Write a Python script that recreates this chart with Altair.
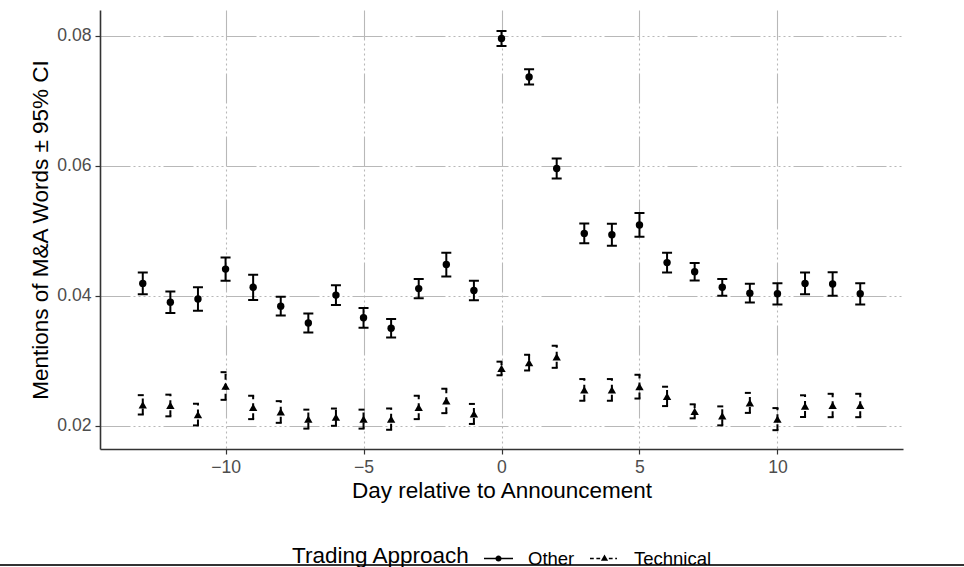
import altair as alt
import pandas as pd

# ---- data ----
days = list(range(-13, 14))
groups = ["Other", "Technical"]

other_mean = [0.0419, 0.0390, 0.0395, 0.0441, 0.0413, 0.0384, 0.0358, 0.0401, 0.0366, 0.0350,
              0.0411, 0.0448, 0.0408, 0.0796, 0.0737, 0.0596, 0.0496, 0.0494, 0.0509, 0.0451,
              0.0437, 0.0413, 0.0404, 0.0403, 0.0419, 0.0418, 0.0403]
other_ci = [0.00167, 0.00167, 0.00180, 0.00180, 0.00195, 0.00146, 0.00146, 0.00152, 0.00152, 0.00142,
            0.00149, 0.00183, 0.00149, 0.00116, 0.00116, 0.00154, 0.00151, 0.00170, 0.00183, 0.00152,
            0.00134, 0.00129, 0.00146, 0.00164, 0.00167, 0.00180, 0.00164]

tech_mean = [0.0232, 0.0231, 0.0217, 0.0261, 0.0228, 0.0221, 0.0210, 0.0213, 0.0210, 0.0210,
             0.0228, 0.0238, 0.0218, 0.0288, 0.0297, 0.0306, 0.0255, 0.0255, 0.0260, 0.0245,
             0.0222, 0.0215, 0.0235, 0.0210, 0.0230, 0.0231, 0.0231]
tech_ci = [0.00149, 0.00167, 0.00167, 0.00213, 0.00180, 0.00167, 0.00146, 0.00133, 0.00146, 0.00164,
           0.00180, 0.00188, 0.00154, 0.00105, 0.00121, 0.00170, 0.00167, 0.00167, 0.00183, 0.00149,
           0.00108, 0.00146, 0.00154, 0.00170, 0.00167, 0.00180, 0.00180]

x_ticks = [-10, -5, 0, 5, 10]
y_ticks = [0.02, 0.04, 0.06, 0.08]

rows = []
for g, means, cis in [("Other", other_mean, other_ci), ("Technical", tech_mean, tech_ci)]:
    for d, m, c in zip(days, means, cis):
        rows.append({"day": d, "mean": m, "lo": m - c, "hi": m + c, "group": g, "legend_group": g})
df = pd.DataFrame(rows)

FONT = "Liberation Sans"

xscale = alt.Scale(domain=[-14.55, 14.55], nice=False, zero=False)
yscale = alt.Scale(domain=[0.0164, 0.0840], nice=False, zero=False)

xaxis = alt.Axis(values=x_ticks, title="Day relative to Announcement", format="d")
yaxis = alt.Axis(values=y_ticks, title="Mentions of M\u0026A Words \u00b1 95% CI", format=".2f")

dash = alt.StrokeDash("group:N", scale=alt.Scale(domain=groups, range=[[1, 0], [6, 4]]), legend=None)

base = alt.Chart(df)

stems = base.mark_rule(strokeWidth=2, color="black").encode(
    x=alt.X("day:Q", scale=xscale, axis=xaxis),
    y=alt.Y("lo:Q", scale=yscale, axis=yaxis),
    y2="hi:Q",
    strokeDash=dash,
)

caps_lo = base.mark_rule(strokeWidth=2, color="black", xOffset=-5, x2Offset=5).encode(
    x=alt.X("day:Q", scale=xscale, axis=xaxis),
    x2="day:Q",
    y=alt.Y("lo:Q", scale=yscale, axis=yaxis),
    strokeDash=dash,
)
caps_hi = base.mark_rule(strokeWidth=2, color="black", xOffset=-5, x2Offset=5).encode(
    x=alt.X("day:Q", scale=xscale, axis=xaxis),
    x2="day:Q",
    y=alt.Y("hi:Q", scale=yscale, axis=yaxis),
    strokeDash=dash,
)

points = base.mark_point(filled=True, opacity=1, color="black").encode(
    x=alt.X("day:Q", scale=xscale, axis=xaxis),
    y=alt.Y("mean:Q", scale=yscale, axis=yaxis),
    shape=alt.Shape("group:N", scale=alt.Scale(domain=groups, range=["circle", "triangle-up"]), legend=None),
    size=alt.Size("group:N", scale=alt.Scale(domain=groups, range=[55, 70]), legend=None),
)

# legend-only layer: filled symbols that combine the line style and the marker
other_path = ("M-1,-0.06H-0.2V0.06H-1Z M0.2,-0.06H1V0.06H0.2Z "
              "M0.21,0A0.21,0.21,0,1,1,-0.21,0A0.21,0.21,0,1,1,0.21,0Z")
tech_path = ("M-1,-0.06H-0.74V0.06H-1Z M-0.56,-0.06H-0.3V0.06H-0.56Z "
             "M0.3,-0.06H0.56V0.06H0.3Z M0.74,-0.06H0.86V0.06H0.74Z "
             "M0,-0.28L0.25,0.16L-0.25,0.16Z")

legend = alt.Legend(
    title="Trading Approach",
    orient="none",
    legendX=192,
    legendY=533,
    direction="horizontal",
    titleOrient="left",
    titleFont=FONT,
    titleFontSize=22.5,
    titleFontWeight="normal",
    titleColor="black",
    titlePadding=12,
    titleBaseline="middle",
    labelFont=FONT,
    labelFontSize=18.5,
    labelColor="black",
    labelOffset=14,
    columnPadding=12,
    symbolSize=841,
    symbolFillColor="black",
    symbolOpacity=1,
)

legend_layer = base.mark_point(filled=True, opacity=0, size=841, color="black").encode(
    x=alt.X("day:Q", scale=xscale, axis=xaxis),
    y=alt.Y("mean:Q", scale=yscale, axis=yaxis),
    shape=alt.Shape("legend_group:N", scale=alt.Scale(domain=groups, range=[other_path, tech_path]), legend=legend),
)

border = alt.Chart(pd.DataFrame({"k": [0]})).mark_rule(color="#333333", strokeWidth=2).encode(
    x=alt.value(-100), x2=alt.value(864), y=alt.value(555)
)

chart = (
    alt.layer(stems, caps_lo, caps_hi, points, legend_layer, border)
    .resolve_scale(shape="independent")
    .properties(
        width=803,
        height=439,
        autosize=alt.AutoSizeParams(type="none"),
        padding={"left": 100, "top": 10, "right": 61, "bottom": 118},
    )
    .configure(font=FONT)
    .configure_view(stroke=None)
    .configure_axis(
        labelFont=FONT,
        titleFont=FONT,
        labelFontSize=17.6,
        labelColor="#4d4d4d",
        titleFontSize=22.5,
        titleFontWeight="normal",
        titleColor="black",
        domainColor="#333333",
        domainWidth=1.6,
        tickColor="#333333",
        tickWidth=1.2,
        tickSize=5,
        labelPadding=4,
        grid=True,
        gridColor="#b8b8b8",
        gridWidth=1.1,
        gridDash=[30, 3, 2, 3, 2, 3, 2, 3, 2, 3, 2, 3, 2, 3],
    )
    .configure_axisX(titlePadding=4)
    .configure_axisY(titlePadding=4)
)

chart.save("out.html", embed_options={"renderer": "svg", "actions": False})
